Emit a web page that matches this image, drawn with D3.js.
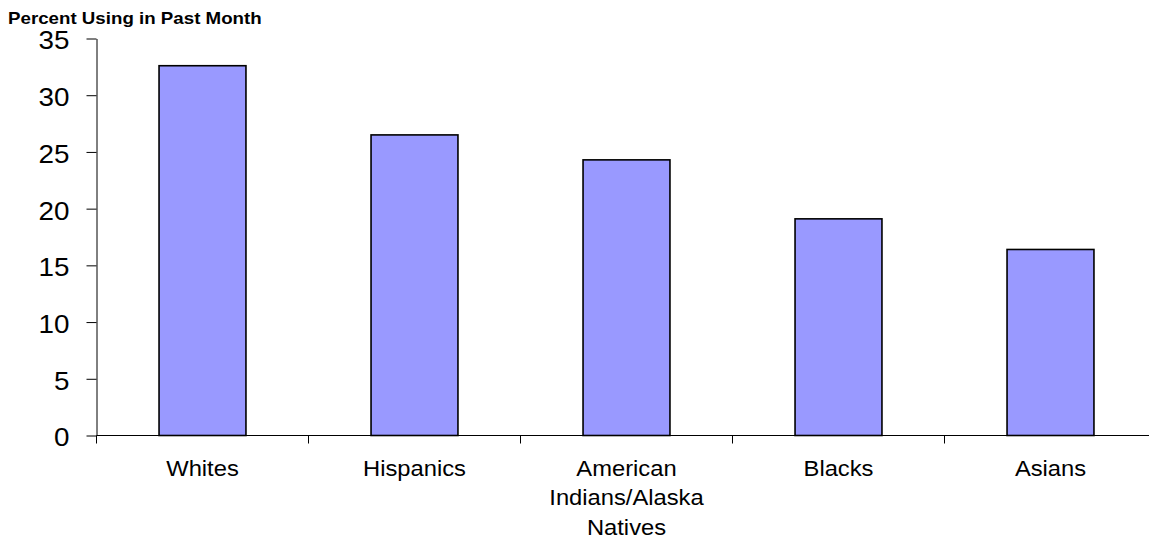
<!DOCTYPE html>
<html>
<head>
<meta charset="utf-8">
<script src="https://cdn.jsdelivr.net/npm/d3@7"></script>
<style>
  html, body { margin: 0; padding: 0; background: #fff; }
  svg { display: block; font-family: "Liberation Sans", Arial, sans-serif; }
</style>
</head>
<body>
<svg id="chart" width="1149" height="539"></svg>
<script>
const categories = ["Whites", "Hispanics", "American Indians/Alaska Natives", "Blacks", "Asians"];
const values = [32.6, 26.5, 24.3, 19.1, 16.4];
const categoryLabelLines = [["Whites"], ["Hispanics"], ["American", "Indians/Alaska", "Natives"], ["Blacks"], ["Asians"]];
const yTicks = [0, 5, 10, 15, 20, 25, 30, 35];
const yTitle = "Percent Using in Past Month";

const svg = d3.select("#chart");

const x = d3.scaleBand().domain(categories).range([96.5, 1156.5]).padding(0);
const y = d3.scaleLinear().domain([0, 35]).range([435.5, 38.5]);
const barRatio = 0.41;

// bars
svg.append("g").selectAll("rect")
  .data(categories)
  .join("rect")
  .attr("x", (c) => x(c) + x.bandwidth() * (1 - barRatio) / 2)
  .attr("y", (c, i) => y(values[i]))
  .attr("width", x.bandwidth() * barRatio)
  .attr("height", (c, i) => y(0) - y(values[i]))
  .attr("fill", "#9999ff")
  .attr("stroke", "#000")
  .attr("stroke-width", 1.6);

// y axis
const yAxis = svg.append("g")
  .attr("transform", "translate(96.5,0)")
  .call(d3.axisLeft(y).tickValues(yTicks).tickSize(10).tickSizeOuter(0).tickPadding(17));
yAxis.select(".domain").attr("stroke", "#000");
yAxis.selectAll(".tick line").attr("stroke", "#000");
yAxis.selectAll(".tick text")
  .attr("font-size", 26)
  .attr("fill", "#000")
  .attr("font-family", "'Liberation Sans', Arial, sans-serif")
  .attr("x", 0)
  .attr("dy", "0.36em")
  .attr("transform", "translate(-27,1) scale(1.07,1)");

// x axis line
svg.append("line")
  .attr("x1", 96.5).attr("x2", 1149)
  .attr("y1", y(0)).attr("y2", y(0))
  .attr("stroke", "#000");

// x ticks at category boundaries
svg.append("g").selectAll("line")
  .data(categories)
  .join("line")
  .attr("x1", (c) => x(c)).attr("x2", (c) => x(c))
  .attr("y1", y(0)).attr("y2", y(0) + 8)
  .attr("stroke", "#000");

// x labels
const xl = svg.append("g").selectAll("text")
  .data(categories)
  .join("text")
  .attr("transform", (c) => `translate(${x(c) + x.bandwidth() / 2},476) scale(1.08,1)`)
  .attr("text-anchor", "middle")
  .attr("font-size", 22)
  .attr("fill", "#000");
xl.selectAll("tspan")
  .data((c, i) => categoryLabelLines[i])
  .join("tspan")
  .attr("x", 0)
  .attr("y", (d, j) => j * 29.3)
  .text((d) => d);

// y title
svg.append("text")
  .attr("transform", "translate(8,24) scale(1.17,1)")
  .attr("font-size", 16)
  .attr("font-weight", "bold")
  .attr("fill", "#000")
  .text(yTitle);
</script>
</body>
</html>
